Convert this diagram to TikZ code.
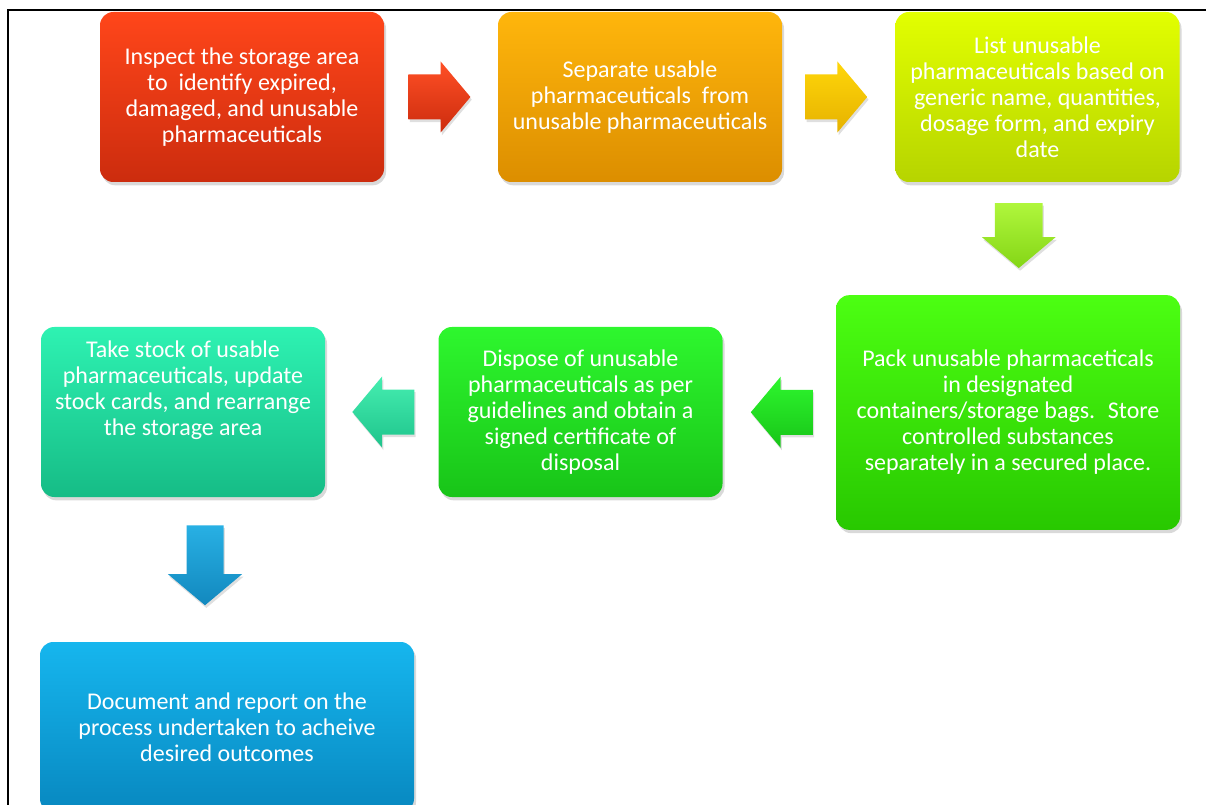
\documentclass[tikz,border=0pt]{standalone}
\usepackage{fontspec}
\setmainfont{Carlito}
\usetikzlibrary{shapes.arrows,shadows,calc}

\definecolor{redtop}{HTML}{FF461A}
\definecolor{redbot}{HTML}{CC2C0E}
\definecolor{orangetop}{HTML}{FFB60C}
\definecolor{orangebot}{HTML}{DC8E00}
\definecolor{limetop}{HTML}{E2FF00}
\definecolor{limebot}{HTML}{B6D400}
\definecolor{greentop}{HTML}{4CFF12}
\definecolor{greenbot}{HTML}{28C800}
\definecolor{disptop}{HTML}{2EF72E}
\definecolor{dispbot}{HTML}{18C418}
\definecolor{tealtop}{HTML}{2EF2B2}
\definecolor{tealbot}{HTML}{16BC86}
\definecolor{bluetop}{HTML}{16B6EE}
\definecolor{bluebot}{HTML}{0888C0}

\tikzset{every picture/.style={line width=0.75pt}}
\tikzset{
  stepbox/.style={rounded corners=10pt, draw=none, text=white, align=center, inner sep=2pt,
    font=\fontsize{18}{19.5}\selectfont, minimum width=213pt, minimum height=127.5pt,
    drop shadow={shadow xshift=1.5pt, shadow yshift=-2.5pt, opacity=0.3}},
  boxtext/.style={text=white, align=center, inner sep=0pt, font=\fontsize{18}{19.5}\selectfont},
  blockarrow/.style={single arrow, draw=none, inner xsep=0pt, inner ysep=16.5pt,
    minimum height=46.5pt, single arrow head extend=9.75pt, single arrow tip angle=100,
    drop shadow={shadow xshift=1pt, shadow yshift=-2pt, opacity=0.25}},
  downarrow/.style={blockarrow, shape border rotate=270, inner xsep=17.5pt, inner ysep=0pt},
}

\begin{document}
\begin{tikzpicture}[x=0.75pt,y=0.75pt,yscale=-1,xscale=1]
\clip (0,0) rectangle (1206,805);

%Frame
\draw [line width=1.5pt] (8,805) -- (8,10) -- (1206,10) ;

%Rounded Rect [inspect]
\node [stepbox, top color=redtop, bottom color=redbot] (inspect) at (242,97)
  {Inspect the storage area\\to \ identify expired,\\damaged, and unusable\\pharmaceuticals};
%Rounded Rect [separate]
\node [stepbox, top color=orangetop, bottom color=orangebot] (separate) at (640,97)
  {Separate usable\\pharmaceuticals \ from\\unusable pharmaceuticals};
%Rounded Rect [list]
\node [stepbox, top color=limetop, bottom color=limebot] (list) at (1037.5,97)
  {List unusable\\pharmaceuticals based on\\generic name, quantities,\\dosage form, and expiry\\date};
%Rounded Rect [pack]
\node [stepbox, top color=greentop, bottom color=greenbot, minimum width=258pt, minimum height=176pt] (pack) at (1008,412.5)
  {Pack unusable pharmaceticals\\in designated\\containers/storage bags. \ Store\\controlled substances\\separately in a secured place.};
%Rounded Rect [dispose]
\node [stepbox, top color=disptop, bottom color=dispbot] (dispose) at (580.5,412)
  {Dispose of unusable\\pharmaceuticals as per\\guidelines and obtain a\\signed certificate of\\disposal};
%Rounded Rect [takestock]
\node [stepbox, top color=tealtop, bottom color=tealbot] (takestock) at (183,412) {};
% Text Node
\node [boxtext] (taketext) at (183,390)
  {Take stock of usable\\pharmaceuticals, update\\stock cards, and rearrange\\the storage area};
%Rounded Rect [document]
\node [stepbox, top color=bluetop, bottom color=bluebot, minimum width=280.5pt] (document) at (227,727)
  {Document and report on the\\process undertaken to acheive\\desired outcomes};

%Block Arrows
\node [blockarrow, top color=redtop!95, bottom color=redbot] (a1) at ($(inspect.east)!0.5!(separate.west)+(-11,0)$) {};
\node [blockarrow, top color={rgb,255:red,255;green,214;blue,10}, bottom color={rgb,255:red,230;green,178;blue,0}] (a2) at ($(separate.east)!0.5!(list.west)+(-12,0)$) {};
\node [downarrow, minimum height=48.75pt, top color={rgb,255:red,176;green,246;blue,60}, bottom color={rgb,255:red,132;green,214;blue,22}] (a3) at ($(list.south)!0.5!(pack.north)+(-4,-13)$) {};
\node [blockarrow, shape border rotate=180, top color=disptop, bottom color=dispbot] (a4) at ($(dispose.east)!0.5!(pack.west)+(12,0)$) {};
\node [blockarrow, shape border rotate=180, top color={rgb,255:red,70;green,238;blue,176}, bottom color={rgb,255:red,30;green,196;blue,140}] (a5) at ($(takestock.east)!0.5!(dispose.west)+(11,0)$) {};
\node [downarrow, inner xsep=13.5pt, minimum height=60pt, single arrow head extend=14pt, top color={rgb,255:red,40;green,176;blue,228}, bottom color={rgb,255:red,18;green,136;blue,190}] (a6) at ($(takestock.south)!0.5!(document.north)+(0,-12)$) {};

\end{tikzpicture}
\end{document}
